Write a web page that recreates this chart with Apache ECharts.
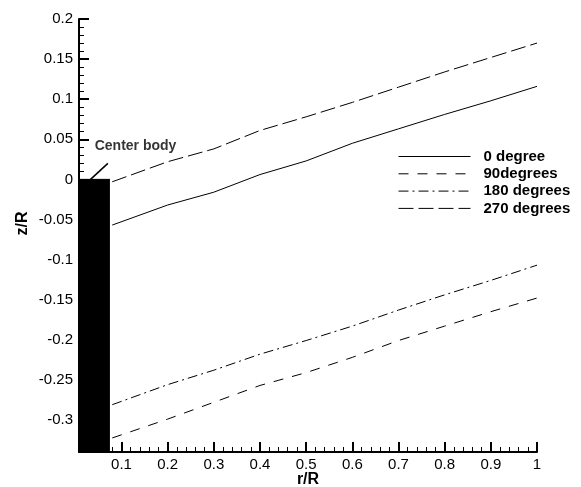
<!DOCTYPE html>
<html>
<head>
<meta charset="utf-8">
<script src="https://cdn.jsdelivr.net/npm/echarts@6/dist/echarts.min.js"></script>
<style>html,body{margin:0;padding:0;background:#fff;}#c{width:581px;height:487px;}</style>
</head>
<body>
<div id="c"></div>
<script>
// ---- data ----
const seriesNames = ['0 degree', '90degrees', '180 degrees', '270 degrees'];
const rValues = [0.08, 0.2, 0.3, 0.4, 0.5, 0.6, 0.7, 0.8, 0.9, 1.0];
const deg0   = [-0.057, -0.032, -0.016, 0.006, 0.023, 0.045, 0.063, 0.081, 0.098, 0.116];
const deg90  = [-0.3225, -0.299, -0.278, -0.257, -0.241, -0.222, -0.201, -0.183, -0.165, -0.148];
const deg180 = [-0.281, -0.256, -0.238, -0.218, -0.201, -0.183, -0.163, -0.144, -0.126, -0.107];
const deg270 = [-0.003, 0.022, 0.038, 0.061, 0.078, 0.096, 0.115, 0.134, 0.152, 0.170];
const bodyR = [0.008, 0.075];
const bodyZ = [0, 0];
const pointerR = [0.033, 0.0705];
const pointerZ = [0, 0.02];
const annotationText = 'Center body';
const annotationPos = [0.042, 0.042];
const xTicksMajor = [0.1, 0.2, 0.3, 0.4, 0.5, 0.6, 0.7, 0.8, 0.9, 1];
const yTicksMajor = [-0.3, -0.25, -0.2, -0.15, -0.1, -0.05, 0, 0.05, 0.1, 0.15, 0.2];
const xMin = 0.008, xMax = 1, yMin = -0.34, yMax = 0.2;

// ---- build ----
const xMinor = []; for (let i = 1; i <= 50; i++) xMinor.push(i / 50);
const yMinor = []; for (let i = -34; i <= 20; i++) yMinor.push(i / 100);
const pair = (xs, ys) => xs.map((x, i) => [x, ys[i]]);
const FONT = '"Liberation Sans", Arial, sans-serif';
const lineDefs = [
  { data: deg0,   type: 'solid' },
  { data: deg90,  type: [10, 9] },
  { data: deg180, type: [10, 4, 2, 4] },
  { data: deg270, type: [15, 5] }
];
const series = lineDefs.map((d, i) => ({
  name: seriesNames[i], type: 'line', xAxisIndex: 0, yAxisIndex: 0,
  data: pair(rValues, d.data), symbol: 'none', showSymbol: false, smooth: false,
  lineStyle: { color: '#000', width: 1, type: d.type }, itemStyle: { color: '#000' }, z: 3
}));
series.push({
  name: 'body', type: 'line', data: pair(bodyR, bodyZ), symbol: 'none',
  lineStyle: { color: '#000', width: 1 }, areaStyle: { color: '#000', opacity: 1, origin: 'start' }, z: 4
});
series.push({
  name: 'pointer', type: 'line', data: pair(pointerR, pointerZ), symbol: 'none',
  lineStyle: { color: '#000', width: 1.5 }, z: 5
});
series.push({
  name: 'annot', type: 'scatter', data: [annotationPos], symbolSize: 0,
  label: { show: true, position: 'right', distance: 0, formatter: annotationText,
    fontFamily: FONT, fontWeight: 'bold', fontSize: 14, color: '#000' }, z: 5
});

const chart = echarts.init(document.getElementById('c'), null, { renderer: 'canvas' });
chart.setOption({
  animation: false,
  backgroundColor: '#fff',
  grid: { left: 79, right: 44, top: 19, bottom: 35, containLabel: false, outerBoundsMode: 'none' },
  legend: {
    data: seriesNames, orient: 'vertical', left: 393, top: 143,
    itemWidth: 72, itemHeight: 14, itemGap: 0.3,
    itemStyle: { opacity: 0 },
    lineStyle: { width: 1 },
    textStyle: { fontFamily: FONT, fontWeight: 'bold', fontSize: 15, lineHeight: 17, color: '#000', padding: [0, 0, 0, 8] }
  },
  xAxis: [
    { type: 'value', min: xMin, max: xMax, position: 'bottom',
      name: 'r/R', nameLocation: 'middle', nameGap: 20, nameMoveOverlap: false,
      nameTextStyle: { fontFamily: FONT, fontWeight: 'bold', fontSize: 16, color: '#000', verticalAlign: 'top' },
      axisLine: { show: true, onZero: false, lineStyle: { color: '#000', width: 2 } },
      axisTick: { show: true, inside: true, length: 10, customValues: xTicksMajor, lineStyle: { color: '#000', width: 2 } },
      axisLabel: { show: true, customValues: xTicksMajor, margin: 5, fontFamily: FONT, fontSize: 15, color: '#000' },
      splitLine: { show: false } },
    { type: 'value', min: xMin, max: xMax, position: 'bottom',
      axisLine: { show: false, onZero: false },
      axisTick: { show: true, inside: true, length: 5, customValues: xMinor, lineStyle: { color: '#000', width: 1 } },
      axisLabel: { show: false }, splitLine: { show: false } }
  ],
  yAxis: [
    { type: 'value', min: yMin, max: yMax, position: 'left',
      name: 'z/R', nameLocation: 'middle', nameGap: 48, nameRotate: 90, nameMoveOverlap: false,
      nameTextStyle: { fontFamily: FONT, fontWeight: 'bold', fontSize: 16, color: '#000', padding: [0, 0, 0, 24] },
      axisLine: { show: true, onZero: false, lineStyle: { color: '#000', width: 2 } },
      axisTick: { show: true, inside: true, length: 10, customValues: yTicksMajor, lineStyle: { color: '#000', width: 2 } },
      axisLabel: { show: true, customValues: yTicksMajor, margin: 6, fontFamily: FONT, fontSize: 15, color: '#000' },
      splitLine: { show: false } },
    { type: 'value', min: yMin, max: yMax, position: 'left',
      axisLine: { show: false, onZero: false },
      axisTick: { show: true, inside: true, length: 5, customValues: yMinor, lineStyle: { color: '#000', width: 1 } },
      axisLabel: { show: false }, splitLine: { show: false } }
  ],
  series: series
});
</script>
</body>
</html>
